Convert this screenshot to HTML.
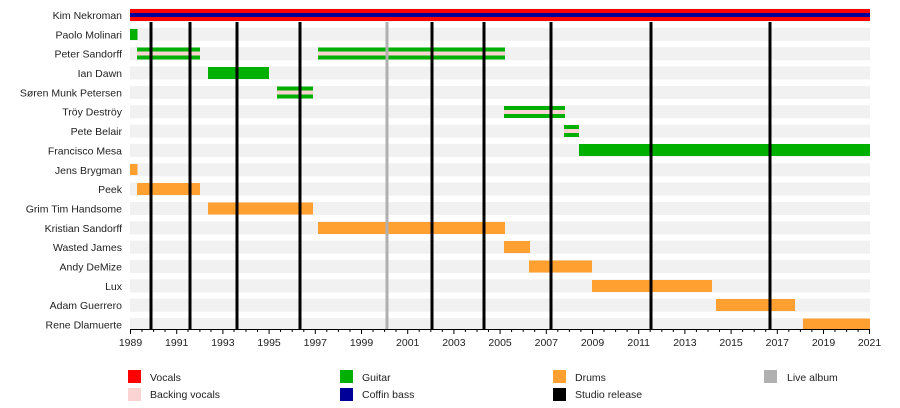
<!DOCTYPE html>
<html><head><meta charset="utf-8"><style>
body{margin:0;background:#fff;}
svg{display:block;font-family:"Liberation Sans",sans-serif;}
</style></head><body>
<svg width="900" height="408" viewBox="0 0 900 408" xmlns="http://www.w3.org/2000/svg">
<g fill="#f1f1f1">
<rect x="130" y="8.5" width="740" height="13"/>
<rect x="130" y="27.8" width="740" height="13"/>
<rect x="130" y="47.2" width="740" height="13"/>
<rect x="130" y="66.5" width="740" height="13"/>
<rect x="130" y="85.9" width="740" height="13"/>
<rect x="130" y="105.2" width="740" height="13"/>
<rect x="130" y="124.6" width="740" height="13"/>
<rect x="130" y="143.9" width="740" height="13"/>
<rect x="130" y="163.3" width="740" height="13"/>
<rect x="130" y="182.6" width="740" height="13"/>
<rect x="130" y="202" width="740" height="13"/>
<rect x="130" y="221.3" width="740" height="13"/>
<rect x="130" y="240.7" width="740" height="13"/>
<rect x="130" y="260" width="740" height="13"/>
<rect x="130" y="279.4" width="740" height="13"/>
<rect x="130" y="298.7" width="740" height="13"/>
<rect x="130" y="318.1" width="740" height="11"/>
</g>
<g font-size="10.5" fill="#222" text-anchor="end">
<text x="122" y="19">Kim Nekroman</text>
<text x="122" y="38.3">Paolo Molinari</text>
<text x="122" y="57.7">Peter Sandorff</text>
<text x="122" y="77">Ian Dawn</text>
<text x="122" y="96.4">Søren Munk Petersen</text>
<text x="122" y="115.7">Tröy Deströy</text>
<text x="122" y="135.1">Pete Belair</text>
<text x="122" y="154.4">Francisco Mesa</text>
<text x="122" y="173.8">Jens Brygman</text>
<text x="122" y="193.1">Peek</text>
<text x="122" y="212.5">Grim Tim Handsome</text>
<text x="122" y="231.8">Kristian Sandorff</text>
<text x="122" y="251.2">Wasted James</text>
<text x="122" y="270.5">Andy DeMize</text>
<text x="122" y="289.9">Lux</text>
<text x="122" y="309.2">Adam Guerrero</text>
<text x="122" y="328.6">Rene Dlamuerte</text>
</g>
<!-- Kim -->
<rect x="130" y="9" width="740" height="12" fill="#ff0000"/>
<rect x="130" y="13" width="740" height="4" fill="#000099"/>
<!-- guitar -->
<g fill="#00b000">
<rect x="130" y="29" width="7.5" height="11"/>
<rect x="208" y="67" width="61" height="12"/>
<rect x="579" y="144" width="291" height="12"/>
</g>
<g>
<rect x="137" y="47.5" width="63" height="12" fill="#00b000"/><rect x="137" y="51.5" width="63" height="4" fill="#fcd3d3"/>
<rect x="318" y="47.5" width="187" height="12" fill="#00b000"/><rect x="318" y="51.5" width="187" height="4" fill="#fcd3d3"/>
<rect x="277" y="86.5" width="36" height="12" fill="#00b000"/><rect x="277" y="90.5" width="36" height="4" fill="#fcd3d3"/>
<rect x="504" y="106" width="61" height="12" fill="#00b000"/><rect x="504" y="110" width="61" height="4" fill="#fcd3d3"/>
<rect x="564" y="125" width="15" height="12" fill="#00b000"/><rect x="564" y="129" width="15" height="4" fill="#fcd3d3"/>
</g>
<g fill="#ffa030">
<rect x="130" y="164" width="7.5" height="11"/>
<rect x="137" y="183" width="63" height="12"/>
<rect x="208" y="202.5" width="105" height="12"/>
<rect x="318" y="222" width="187" height="12"/>
<rect x="504" y="241" width="26" height="12"/>
<rect x="529" y="260.5" width="63" height="12"/>
<rect x="592" y="280" width="120" height="12"/>
<rect x="716" y="299" width="79" height="12"/>
<rect x="803" y="318.5" width="67" height="11"/>
</g>
<g stroke="#000" stroke-width="3">
<line x1="151" y1="22" x2="151" y2="329"/>
<line x1="190" y1="22" x2="190" y2="329"/>
<line x1="237" y1="22" x2="237" y2="329"/>
<line x1="300" y1="22" x2="300" y2="329"/>
<line x1="432" y1="22" x2="432" y2="329"/>
<line x1="484" y1="22" x2="484" y2="329"/>
<line x1="551" y1="22" x2="551" y2="329"/>
<line x1="651" y1="22" x2="651" y2="329"/>
<line x1="770" y1="22" x2="770" y2="329"/>
</g>
<line x1="387" y1="22" x2="387" y2="329" stroke="#b0b0b0" stroke-width="3"/>
<line x1="130" y1="329.5" x2="870" y2="329.5" stroke="#000" stroke-width="1"/>
<g stroke="#000" stroke-width="1">
<path d="M130.5 329v5M142 329v3M153.6 329v3M165 329v3M176.7 329v5M188 329v3M199.9 329v3M211 329v3M222.9 329v5M234 329v3M246 329v3M257.5 329v3M269.1 329v5M280.6 329v3M292.2 329v3M303.8 329v3M315.3 329v5M326.8 329v3M338.4 329v3M350 329v3M361.5 329v5M373 329v3M384.6 329v3M396 329v3M407.7 329v5M419.2 329v3M430.8 329v3M442.3 329v3M453.9 329v5M465.4 329v3M477 329v3M488.5 329v3M500.1 329v5M511.6 329v3M523.2 329v3M534.7 329v3M546.3 329v5M557.8 329v3M569.4 329v3M580.9 329v3M592.5 329v5M604 329v3M615.6 329v3M627.1 329v3M638.7 329v5M650.2 329v3M661.8 329v3M673.3 329v3M684.9 329v5M696.4 329v3M708 329v3M719.5 329v3M731.1 329v5M742.6 329v3M754.2 329v3M765.7 329v3M777.3 329v5M788.8 329v3M800.4 329v3M811.9 329v3M823.5 329v5M835 329v3M846.6 329v3M858.1 329v3M869.5 329v5"/>
</g>
<g font-size="10.5" fill="#222" text-anchor="middle">
<text x="130.5" y="346">1989</text><text x="176.7" y="346">1991</text><text x="222.9" y="346">1993</text><text x="269.1" y="346">1995</text><text x="315.3" y="346">1997</text><text x="361.5" y="346">1999</text><text x="407.7" y="346">2001</text><text x="453.9" y="346">2003</text><text x="500.1" y="346">2005</text><text x="546.3" y="346">2007</text><text x="592.5" y="346">2009</text><text x="638.7" y="346">2011</text><text x="684.9" y="346">2013</text><text x="731.1" y="346">2015</text><text x="777.3" y="346">2017</text><text x="823.5" y="346">2019</text><text x="869.5" y="346">2021</text>
</g>
<rect x="128" y="370" width="13" height="13" fill="#ff0000"/>
<rect x="128" y="388" width="13" height="13" fill="#fcd3d3"/>
<rect x="340" y="370" width="13" height="13" fill="#00b000"/>
<rect x="340" y="388" width="13" height="13" fill="#000099"/>
<rect x="553" y="370" width="13" height="13" fill="#ffa030"/>
<rect x="553" y="388" width="13" height="13" fill="#000"/>
<rect x="764" y="370" width="13" height="13" fill="#b0b0b0"/>
<g font-size="10.5" fill="#222">
<text x="150" y="381">Vocals</text>
<text x="150" y="398">Backing vocals</text>
<text x="362" y="381">Guitar</text>
<text x="362" y="398">Coffin bass</text>
<text x="575" y="381">Drums</text>
<text x="575" y="398">Studio release</text>
<text x="787" y="381">Live album</text>
</g>
</svg>
</body></html>
